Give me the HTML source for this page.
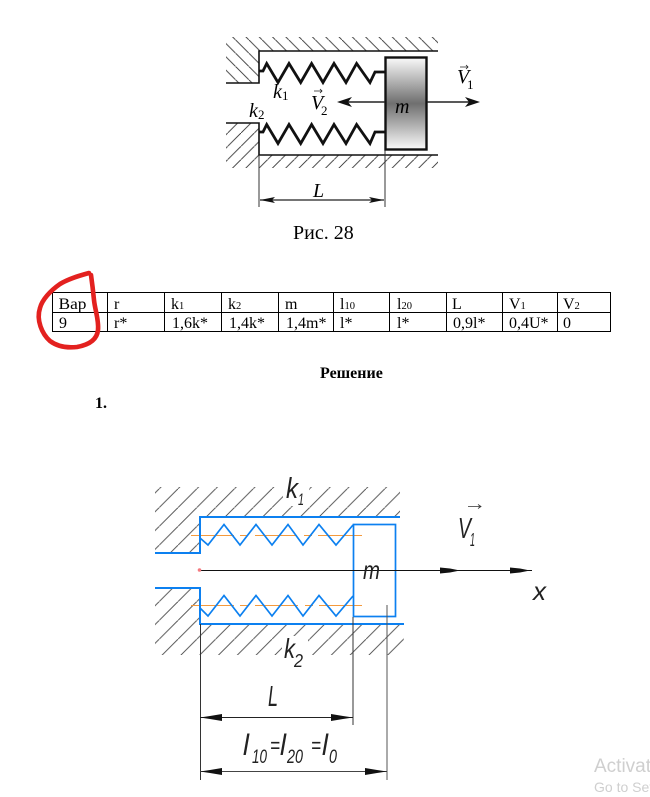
<!DOCTYPE html>
<html><head><meta charset="utf-8"><style>
html,body{margin:0;padding:0;background:#fff;width:650px;height:797px;overflow:hidden}
svg{display:block}
.s{font-family:"Liberation Serif","Noto Serif CJK SC",serif;fill:#000}
.t{font-size:16px}
.i{font-style:italic}
.d{font-family:"Liberation Sans","DejaVu Sans",sans-serif;font-style:italic;fill:#222}
</style></head><body>
<svg width="650" height="797" viewBox="0 0 650 797" xmlns="http://www.w3.org/2000/svg">
<defs>
<pattern id="h1" patternUnits="userSpaceOnUse" width="13.3" height="13.3" patternTransform="translate(9.5 0)"><path d="M-1 -1L14.3 14.3" stroke="#333" stroke-width="0.9"/></pattern>
<pattern id="h2" patternUnits="userSpaceOnUse" width="13.3" height="13.3" patternTransform="translate(1.6 0)"><path d="M-1 14.3L14.3 -1" stroke="#333" stroke-width="0.9"/></pattern>
<pattern id="h3" patternUnits="userSpaceOnUse" width="18.8" height="18.8" patternTransform="translate(8.8 0)"><path d="M-1 19.8L19.8 -1" stroke="#444" stroke-width="0.9"/></pattern>
<linearGradient id="g" x1="0" y1="0" x2="0" y2="1"><stop offset="0" stop-color="#fafafa"/><stop offset=".5" stop-color="#6f6f6f"/><stop offset="1" stop-color="#fafafa"/></linearGradient>
</defs>

<!-- top figure -->
<path d="M259 37H438V51H259V83H226V37H259Z" fill="url(#h1)"/>
<path d="M226 123H259V155H438V168H259H226Z" fill="url(#h2)"/>
<path d="M438 51H259V83H226M226 123H259V155H438" fill="none" stroke="#111" stroke-width="1.6"/>
<path d="M259 155V207M385 149V207" fill="none" stroke="#333" stroke-width="1"/>
<path d="M259 71H263L266.7 63.5L278 82.5L289 63.5L300.7 82.5L311.6 63.5L323 82.5L334 63.5L346 82.5L356.6 63.5L370 82.5L375 72H385" fill="none" stroke="#111" stroke-width="2.8"/>
<path d="M259 132H263L266.7 124.5L278 143.5L289 124.5L300.7 143.5L311.6 124.5L323 143.5L334 124.5L346 143.5L356.6 124.5L370 143.5L375 132H385" fill="none" stroke="#111" stroke-width="2.8"/>
<rect x="385.5" y="57.5" width="41" height="92" fill="url(#g)" stroke="#111" stroke-width="2.4"/>
<path d="M345 102H385M427 102H472" stroke="#222" stroke-width="1.6"/>
<path d="M337 102L352 97L348 102L352 107ZM480 102L465 97L469 102L465 107Z" fill="#111"/>
<path d="M260 200H384" stroke="#222" stroke-width="1.2"/>
<path d="M260 200L275 197L272 200L275 203ZM384 200L369 197L372 200L369 203Z" fill="#111"/>
<text class="s i" x="273" y="98" font-size="20">k</text><text class="s" x="282" y="100" font-size="13">1</text>
<text class="s i" x="249" y="117" font-size="20">k</text><text class="s" x="258" y="119" font-size="13">2</text>
<text class="s i" x="311" y="109" font-size="20">V</text><text class="s" x="321" y="115" font-size="13">2</text>
<path d="M314 91H322M320 89L322 91L320 93" fill="none" stroke="#222" stroke-width=".8"/>
<text class="s i" x="457" y="83" font-size="20">V</text><text class="s" x="467" y="89" font-size="13">1</text>
<path d="M460 67H468M466 65L468 67L466 69" fill="none" stroke="#222" stroke-width=".8"/>
<text class="s i" x="395" y="113" font-size="20">m</text>
<text class="s i" x="313" y="197" font-size="20">L</text>
<text class="s" x="293" y="239" font-size="20">Рис. 28</text>

<!-- table -->
<path d="M52 292.5H610.5M52 312.5H610.5M52 331.5H610.5M52.5 292V332M107.5 292V332M164.5 292V332M221.5 292V332M278.5 292V332M333.5 292V332M389.5 292V332M446.5 292V332M502.5 292V332M557.5 292V332M610.5 292V332" stroke="#000" stroke-width="1" fill="none"/>
<g class="s t">
<text x="58.5" y="309" textLength="28" lengthAdjust="spacingAndGlyphs">Вар</text><text x="114" y="309">r</text>
<text x="171" y="309">k</text><text x="179" y="309" font-size="10.5">1</text>
<text x="228" y="309">k</text><text x="236" y="309" font-size="10.5">2</text>
<text x="285" y="309">m</text>
<text x="340" y="309">l</text><text x="344.5" y="309" font-size="10.5">10</text>
<text x="397" y="309">l</text><text x="401.5" y="309" font-size="10.5">20</text>
<text x="452" y="309">L</text>
<text x="509" y="309">V</text><text x="520.5" y="309" font-size="10.5">1</text>
<text x="563" y="309">V</text><text x="574.5" y="309" font-size="10.5">2</text>
<text x="59" y="328">9</text><text x="114" y="328">r*</text>
<text x="172" y="328">1,6k*</text><text x="229" y="328">1,4k*</text><text x="286" y="328">1,4m*</text>
<text x="340" y="328">l*</text><text x="397" y="328">l*</text><text x="453" y="328">0,9l*</text>
<text x="509" y="328">0,4U*</text><text x="563" y="328">0</text>
</g>
<path d="M89 273C78 276 68 279 60 284C50 291 42 300 40 308C36 320 42 334 50 341C58 347 68 348 77 347C88 345 97 340 98 330C99 320 95 310 94 300C93 290 92 282 91 275" fill="none" stroke="#e3211f" stroke-width="4.6" stroke-linecap="round" stroke-linejoin="round"/>

<text class="s" x="320" y="378" font-size="16" font-weight="bold">Решение</text>
<text class="s" x="95" y="408" font-size="16" font-weight="bold">1.</text>

<!-- lower figure -->
<path d="M155 487H400V517H200V553H155Z" fill="url(#h3)"/>
<path d="M155 588H200V624H404V655H155Z" fill="url(#h3)"/>
<rect x="283" y="474" width="26" height="32" fill="#fff"/>
<rect x="282" y="636" width="26" height="32" fill="#fff"/>
<path d="M191 535.5H234M240 535.5H248M255 535.5H297M304 535.5H312M318 535.5H362M191 605.5H234M240 605.5H248M255 605.5H298M305 605.5H313M319 605.5H362" stroke="#f59a3c" stroke-width="1"/>
<g fill="none" stroke="#0c80f0" stroke-width="1.7">
<path d="M400 517H200V553H155M155 588H200V624H404" stroke-width="2"/>
<rect x="353.5" y="524.5" width="42" height="92"/>
<path d="M200 538L208 545L224 524.5L240 545L256 524.5L272 545L288 524.5L303 545L319 524.5L336 545L353 525"/>
<path d="M200 608L208 616L224 595.5L240 616L256 595.5L272 616L288 595.5L303 616L319 595.5L336 616L353 596"/>
</g>
<path d="M200 570.5H532" stroke="#111" stroke-width="1"/>
<circle cx="199.5" cy="570" r="1.8" fill="#f47a80"/>
<path d="M440 567.5L450 568.5L460 570.5L450 572.5L440 573.5ZM510 567.5L520 568.5L530 570.5L520 572.5L510 573.5Z" fill="#111"/>
<path d="M200.5 624V780M353 617V725" stroke="#333" stroke-width="1"/>
<path d="M387 605V780" stroke="#555" stroke-width="1"/>
<path d="M200 717.5H353" stroke="#222" stroke-width="1"/>
<path d="M200 771.5H387" stroke="#444" stroke-width="1"/>
<path d="M200 717.5L210 716L222 714L222 721L210 719ZM353 717.5L343 716L331 714L331 721L343 719ZM200 771.5L210 770L222 768L222 775L210 773ZM387 771.5L377 770L365 768L365 775L377 773Z" fill="#111"/>

<g class="d">
<text x="286" y="498" font-size="29" textLength="12" lengthAdjust="spacingAndGlyphs">k</text><text x="298" y="505" font-size="17" textLength="6" lengthAdjust="spacingAndGlyphs">1</text>
<text x="284" y="658" font-size="28" textLength="11" lengthAdjust="spacingAndGlyphs">k</text><text x="294" y="667" font-size="18" textLength="9" lengthAdjust="spacingAndGlyphs">2</text>
<text x="363" y="579" font-size="26" textLength="17" lengthAdjust="spacingAndGlyphs">m</text>
<text x="458" y="538" font-size="29" textLength="13" lengthAdjust="spacingAndGlyphs">V</text><text x="470" y="546" font-size="18" textLength="5" lengthAdjust="spacingAndGlyphs">1</text>
<path d="M468 506.5H481M478 504.5L481 506.5L478 508.5" fill="none" stroke="#333" stroke-width=".8"/>
<text x="533" y="600" font-size="26" textLength="13" lengthAdjust="spacingAndGlyphs">x</text>
<text x="268" y="706" font-size="29" textLength="10" lengthAdjust="spacingAndGlyphs">L</text>
<text x="243" y="755" font-size="30" textLength="6" lengthAdjust="spacingAndGlyphs">l</text><text x="252" y="763" font-size="19" textLength="15" lengthAdjust="spacingAndGlyphs">10</text>
<text x="270" y="753" font-size="22" textLength="10" lengthAdjust="spacingAndGlyphs">=</text>
<text x="280" y="755" font-size="30" textLength="6" lengthAdjust="spacingAndGlyphs">l</text><text x="287" y="763" font-size="19" textLength="16" lengthAdjust="spacingAndGlyphs">20</text>
<text x="311" y="753" font-size="22" textLength="10" lengthAdjust="spacingAndGlyphs">=</text>
<text x="322" y="755" font-size="30" textLength="6" lengthAdjust="spacingAndGlyphs">l</text><text x="329" y="763" font-size="19" textLength="8" lengthAdjust="spacingAndGlyphs">0</text>
</g>

<!-- watermark -->
<text x="594" y="772" font-family="Liberation Sans, sans-serif" font-size="19" fill="#cfcfcf">Activate</text>
<text x="594" y="792" font-family="Liberation Sans, sans-serif" font-size="14" fill="#cfcfcf">Go to Settings</text>
</svg>
</body></html>
